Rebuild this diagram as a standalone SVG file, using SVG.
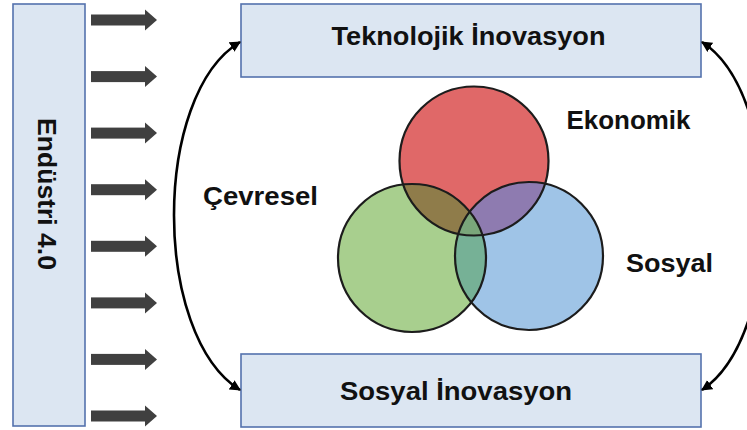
<svg xmlns="http://www.w3.org/2000/svg" width="747" height="430" viewBox="0 0 747 430">
<style>
.box{fill:#dce6f2;stroke:#5472ad;stroke-width:1.6}
.lbl{font-family:"Liberation Sans",Arial,sans-serif;font-weight:bold;font-size:25.5px;fill:#111}
.blk{fill:#404040}
.conn{fill:none;stroke:#000;stroke-width:2.6;marker-start:url(#ah);marker-end:url(#ah)}
.ring{fill:none;stroke:#1c1c1c;stroke-width:2.2}
</style>
<defs>
<marker id="ah" viewBox="0 0 10 10" refX="9" refY="5" markerWidth="4.2" markerHeight="4.2" orient="auto-start-reverse" markerUnits="strokeWidth">
<path d="M0,0 L10,5 L0,10 z" fill="#000"/>
</marker>
<g id="blockArrow">
<rect x="91" y="-5.5" width="55" height="11"/>
<path d="M145,-10.5 L157,0 L145,10.5 z"/>
</g>
<clipPath id="cR"><circle cx="474" cy="161" r="74.5"/></clipPath>
<clipPath id="cG"><circle cx="412" cy="258" r="74"/></clipPath>
<clipPath id="cB"><circle cx="529" cy="256" r="74"/></clipPath>
</defs>

<g id="industry">
<rect class="box" x="13" y="4" width="72" height="422"/>
<text class="lbl" transform="translate(38,194) rotate(90)" text-anchor="middle" textLength="152" lengthAdjust="spacingAndGlyphs">Endüstri 4.0</text>
</g>

<g id="push-arrows" class="blk">
<use href="#blockArrow" y="20"/>
<use href="#blockArrow" y="76.6"/>
<use href="#blockArrow" y="133.1"/>
<use href="#blockArrow" y="189.7"/>
<use href="#blockArrow" y="246.3"/>
<use href="#blockArrow" y="302.9"/>
<use href="#blockArrow" y="359.4"/>
<use href="#blockArrow" y="416"/>
</g>

<g id="tech-innovation">
<rect class="box" x="241" y="4" width="460" height="73"/>
<text class="lbl" x="331.5" y="45" textLength="274" lengthAdjust="spacingAndGlyphs">Teknolojik İnovasyon</text>
</g>

<g id="social-innovation">
<rect class="box" x="241" y="354" width="460" height="73"/>
<text class="lbl" x="340" y="400" textLength="232" lengthAdjust="spacingAndGlyphs">Sosyal İnovasyon</text>
</g>

<g id="venn">
<circle cx="474" cy="161" r="74.5" fill="#e06868"/>
<circle cx="412" cy="258" r="74" fill="#a8cf8e"/>
<circle cx="529" cy="256" r="74" fill="#9fc4e7"/>
<g clip-path="url(#cR)">
<circle cx="412" cy="258" r="74" fill="#8f7c4a"/>
<circle cx="529" cy="256" r="74" fill="#8e7bb0"/>
</g>
<g clip-path="url(#cG)">
<circle cx="529" cy="256" r="74" fill="#76b196"/>
</g>
<g clip-path="url(#cR)"><g clip-path="url(#cG)">
<circle cx="529" cy="256" r="74" fill="#7aa67a"/>
</g></g>
<circle class="ring" cx="474" cy="161" r="74.5"/>
<circle class="ring" cx="412" cy="258" r="74"/>
<circle class="ring" cx="529" cy="256" r="74"/>
</g>

<g id="labels">
<text class="lbl" x="566.5" y="129" textLength="124" lengthAdjust="spacingAndGlyphs">Ekonomik</text>
<text class="lbl" x="203" y="205" textLength="115" lengthAdjust="spacingAndGlyphs">Çevresel</text>
<text class="lbl" x="626" y="272" textLength="87" lengthAdjust="spacingAndGlyphs">Sosyal</text>
</g>

<g id="connectors">
<path class="conn" d="M240,42 C152,95 152,335 240,390"/>
<path class="conn" d="M702,42 C785,95 785,335 702,390"/>
</g>
</svg>
